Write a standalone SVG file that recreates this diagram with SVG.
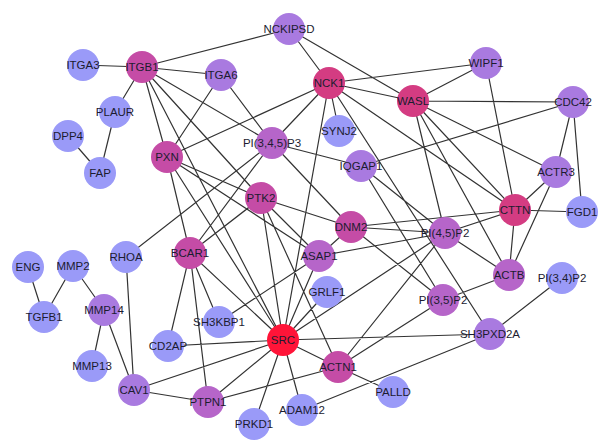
<svg xmlns="http://www.w3.org/2000/svg" width="602" height="446" viewBox="0 0 602 446">
<style>
.e{stroke:#333;stroke-width:1.2;fill:none}
circle{stroke:none}
.c0{fill:#9a9af8}
.c1{fill:#a97ae0}
.c2{fill:#b665c9}
.c3{fill:#c54ca6}
.c4{fill:#d43c82}
.c5{fill:#ff1438}
text{font-family:"Liberation Sans",Arial,sans-serif;font-size:11.5px;fill:#1c1c30;text-anchor:middle}
</style>
<rect width="602" height="446" fill="#fff"/>
<g id="edges">
<path class="e" d="M83 65L142 67M142 67L289 29M142 67L221 75M142 67L115 112M142 67L167 157M142 67L272 143M142 67L261 198M142 67L283 340M115 112L100 173M68 136L100 173M289 29L329 83M289 29L413 101M221 75L167 157M221 75L272 143M329 83L486 63M329 83L413 101M329 83L339 131M329 83L167 157M329 83L272 143M329 83L283 340M329 83L515 210M329 83L490 334M486 63L413 101M486 63L515 210M413 101L573 102M413 101L556 172M413 101L515 210M413 101L509 275M413 101L445 233M573 102L556 172M573 102L582 212M573 102L361 166M556 172L515 210M556 172L509 275M515 210L582 212M515 210L509 275M515 210L351 227M515 210L445 233M167 157L261 198M167 157L190 253M167 157L319 256M167 157L283 340M272 143L361 166M272 143L351 227M272 143L126 257M272 143L190 253M261 198L190 253M261 198L351 227M261 198L319 256M261 198L283 340M261 198L338 367M361 166L445 233M361 166L443 300M351 227L445 233M351 227L443 300M351 227L319 256M319 256L445 233M319 256L283 340M319 256L219 322M445 233L509 275M445 233L283 340M445 233L338 367M443 300L509 275M443 300L338 367M490 334L562 278M490 334L283 340M490 334L302 410M338 367L283 340M338 367L393 392M338 367L208 402M190 253L168 346M190 253L208 402M190 253L219 322M190 253L283 340M283 340L168 346M283 340L134 390M283 340L208 402M283 340L254 424M283 340L302 410M283 340L327 292M134 390L208 402M134 390L126 257M134 390L104 310M104 310L92 366M104 310L73 266M73 266L44 317M28 267L44 317"/>
</g>
<g id="n-NCKIPSD"><circle class="c1" cx="289" cy="29" r="16"/><text x="289" y="33">NCKIPSD</text></g>
<g id="n-ITGA3"><circle class="c0" cx="83" cy="65" r="16"/><text x="83" y="69">ITGA3</text></g>
<g id="n-ITGB1"><circle class="c3" cx="142" cy="67" r="16"/><text x="142" y="71">ITGB1</text></g>
<g id="n-ITGA6"><circle class="c1" cx="221" cy="75" r="16"/><text x="221" y="79">ITGA6</text></g>
<g id="n-PLAUR"><circle class="c0" cx="115" cy="112" r="16"/><text x="115" y="116">PLAUR</text></g>
<g id="n-DPP4"><circle class="c0" cx="68" cy="136" r="16"/><text x="68" y="140">DPP4</text></g>
<g id="n-FAP"><circle class="c0" cx="100" cy="173" r="16"/><text x="100" y="177">FAP</text></g>
<g id="n-PXN"><circle class="c3" cx="167" cy="157" r="16"/><text x="167" y="161">PXN</text></g>
<g id="n-PI345P3"><circle class="c2" cx="272" cy="143" r="16"/><text x="272" y="147">PI(3,4,5)P3</text></g>
<g id="n-NCK1"><circle class="c4" cx="329" cy="83" r="16"/><text x="329" y="87">NCK1</text></g>
<g id="n-WIPF1"><circle class="c1" cx="486" cy="63" r="16"/><text x="486" y="67">WIPF1</text></g>
<g id="n-WASL"><circle class="c4" cx="413" cy="101" r="16"/><text x="413" y="105">WASL</text></g>
<g id="n-CDC42"><circle class="c1" cx="573" cy="102" r="16"/><text x="573" y="106">CDC42</text></g>
<g id="n-SYNJ2"><circle class="c0" cx="339" cy="131" r="16"/><text x="339" y="135">SYNJ2</text></g>
<g id="n-IQGAP1"><circle class="c1" cx="361" cy="166" r="16"/><text x="361" y="170">IQGAP1</text></g>
<g id="n-ACTR3"><circle class="c1" cx="556" cy="172" r="16"/><text x="556" y="176">ACTR3</text></g>
<g id="n-CTTN"><circle class="c4" cx="515" cy="210" r="16"/><text x="515" y="214">CTTN</text></g>
<g id="n-FGD1"><circle class="c0" cx="582" cy="212" r="16"/><text x="582" y="216">FGD1</text></g>
<g id="n-PTK2"><circle class="c3" cx="261" cy="198" r="16"/><text x="261" y="202">PTK2</text></g>
<g id="n-DNM2"><circle class="c3" cx="351" cy="227" r="16"/><text x="351" y="231">DNM2</text></g>
<g id="n-PI45P2"><circle class="c2" cx="445" cy="233" r="16"/><text x="445" y="237">PI(4,5)P2</text></g>
<g id="n-ASAP1"><circle class="c2" cx="319" cy="256" r="16"/><text x="319" y="260">ASAP1</text></g>
<g id="n-BCAR1"><circle class="c3" cx="190" cy="253" r="16"/><text x="190" y="257">BCAR1</text></g>
<g id="n-RHOA"><circle class="c0" cx="126" cy="257" r="16"/><text x="126" y="261">RHOA</text></g>
<g id="n-ENG"><circle class="c0" cx="28" cy="267" r="16"/><text x="28" y="271">ENG</text></g>
<g id="n-MMP2"><circle class="c0" cx="73" cy="266" r="16"/><text x="73" y="270">MMP2</text></g>
<g id="n-ACTB"><circle class="c2" cx="509" cy="275" r="16"/><text x="509" y="279">ACTB</text></g>
<g id="n-PI34P2"><circle class="c0" cx="562" cy="278" r="16"/><text x="562" y="282">PI(3,4)P2</text></g>
<g id="n-GRLF1"><circle class="c0" cx="327" cy="292" r="16"/><text x="327" y="296">GRLF1</text></g>
<g id="n-PI35P2"><circle class="c2" cx="443" cy="300" r="16"/><text x="443" y="304">PI(3,5)P2</text></g>
<g id="n-TGFB1"><circle class="c0" cx="44" cy="317" r="16"/><text x="44" y="321">TGFB1</text></g>
<g id="n-MMP14"><circle class="c1" cx="104" cy="310" r="16"/><text x="104" y="314">MMP14</text></g>
<g id="n-SH3KBP1"><circle class="c0" cx="219" cy="322" r="16"/><text x="219" y="326">SH3KBP1</text></g>
<g id="n-CD2AP"><circle class="c0" cx="168" cy="346" r="16"/><text x="168" y="350">CD2AP</text></g>
<g id="n-SH3PXD2A"><circle class="c1" cx="490" cy="334" r="16"/><text x="490" y="338">SH3PXD2A</text></g>
<g id="n-MMP13"><circle class="c0" cx="92" cy="366" r="16"/><text x="92" y="370">MMP13</text></g>
<g id="n-ACTN1"><circle class="c3" cx="338" cy="367" r="16"/><text x="338" y="371">ACTN1</text></g>
<g id="n-CAV1"><circle class="c1" cx="134" cy="390" r="16"/><text x="134" y="394">CAV1</text></g>
<g id="n-PTPN1"><circle class="c2" cx="208" cy="402" r="16"/><text x="208" y="406">PTPN1</text></g>
<g id="n-PALLD"><circle class="c0" cx="393" cy="392" r="16"/><text x="393" y="396">PALLD</text></g>
<g id="n-ADAM12"><circle class="c0" cx="302" cy="410" r="16"/><text x="302" y="414">ADAM12</text></g>
<g id="n-PRKD1"><circle class="c0" cx="254" cy="424" r="16"/><text x="254" y="428">PRKD1</text></g>
<g id="n-SRC"><circle class="c5" cx="283" cy="340" r="16"/><text x="283" y="344">SRC</text></g>
</svg>
